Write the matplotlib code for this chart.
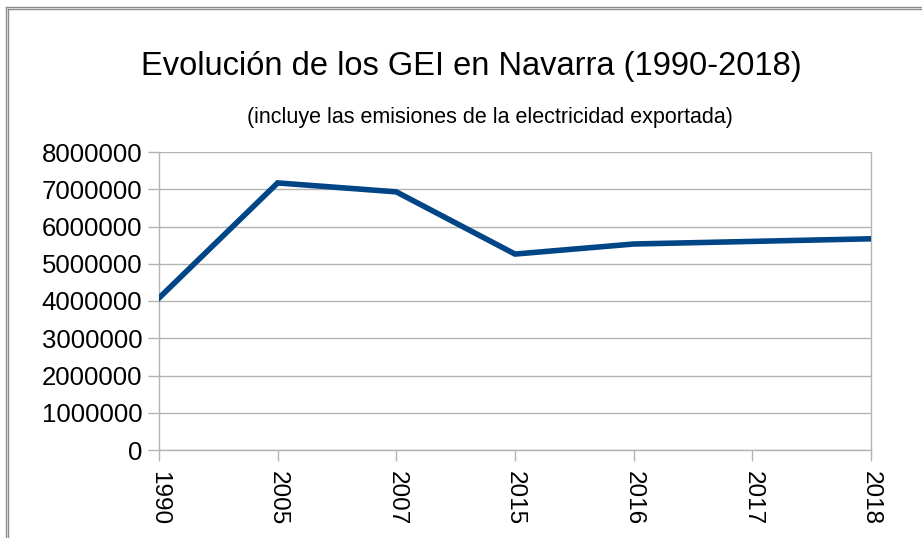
import matplotlib
matplotlib.use("Agg")
import matplotlib.pyplot as plt
from matplotlib.lines import Line2D

years = ["1990", "2005", "2007", "2015", "2016", "2017", "2018"]
emissions = [4080000, 7170000, 6930000, 5260000, 5530000, 5600000, 5670000]
yticks = [0, 1000000, 2000000, 3000000, 4000000, 5000000, 6000000, 7000000, 8000000]

plt.rcParams['font.family'] = ['Liberation Sans', 'DejaVu Sans']

W, H = 922, 538
fig = plt.figure(figsize=(W / 100, H / 100), dpi=100)
ax = fig.add_axes([159 / W, 1 - 450 / H, (871 - 159) / W, (450 - 152) / H])

x = list(range(len(years)))
ax.plot(x, emissions, color="#004586", lw=4, solid_joinstyle="miter", zorder=3)
ax.set_xlim(0, len(years) - 1)
ax.set_ylim(0, 8000000)
ax.set_xticks(x)
ax.set_xticklabels(years, rotation=270, fontsize=17.5)
ax.set_yticks(yticks)
ax.set_yticklabels([str(v) for v in yticks], fontsize=18.5)
ax.grid(axis="y", color="#b3b3b3", lw=1)
ax.set_axisbelow(True)
for s in ["top", "right"]:
    ax.spines[s].set_visible(False)
for s in ["left", "bottom"]:
    ax.spines[s].set_color("#b3b3b3")
    ax.spines[s].set_linewidth(1)
ax.plot([1, 1], [0, 1], transform=ax.transAxes, color="#b3b3b3", lw=1, clip_on=False)
ax.tick_params(axis="both", color="#b3b3b3", length=8, width=1, labelcolor="black")
ax.tick_params(axis="x", pad=7)
ax.tick_params(axis="y", pad=4)

fig.text(0.511, 1 - 66 / H, "Evolución de los GEI en Navarra (1990-2018)", ha="center", va="center", fontsize=23.5)
fig.text(0.531, 1 - 118 / H, "(incluye las emisiones de la electricidad exportada)", ha="center", va="center", fontsize=15.5)

# double border
for xx in [5.5, 7.5]:
    fig.add_artist(Line2D([xx / W, xx / W], [0, 1 - (xx + 1) / H], color="#8c8c8c", lw=1.0))
for yy in [6.5, 9.0]:
    fig.add_artist(Line2D([(yy - 1) / W, 1], [1 - yy / H, 1 - yy / H], color="#8c8c8c", lw=1.0))

fig.savefig("out.png", dpi=100)
